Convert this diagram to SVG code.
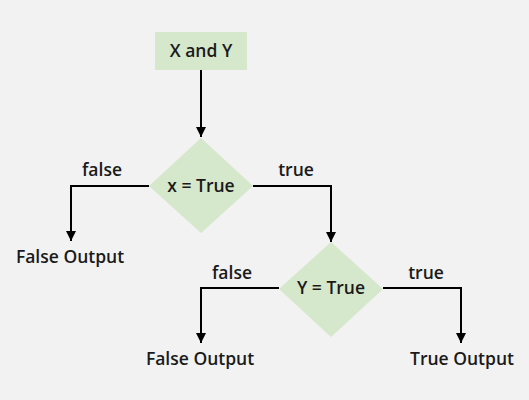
<svg xmlns="http://www.w3.org/2000/svg" width="529" height="400" viewBox="0 0 529 400">
<defs>
<marker id="arr" viewBox="0 0 10 10" refX="10" refY="5" markerWidth="10" markerHeight="10" markerUnits="userSpaceOnUse" orient="auto">
<path d="M0,0 L10,5 L0,10 z" fill="#000"/>
</marker>
<style>
.n{fill:#d5e8cc;stroke:none}
.t{font-family:"Open Sans","Noto Sans",sans-serif;font-weight:600;font-size:17.5px;fill:#1a1a1a;text-anchor:middle}
.c{fill:none;stroke:#000;stroke-width:2;marker-end:url(#arr)}
</style>
</defs>
<rect width="529" height="400" fill="#f2f2f2"/>
<g id="connectors">
<path class="c" d="M201,70 V137"/>
<path class="c" d="M149,186 H71 V241"/>
<path class="c" d="M253,186 H331 V242"/>
<path class="c" d="M279,288 H201 V343"/>
<path class="c" d="M383,288 H461 V343"/>
</g>
<g id="start">
<rect class="n" x="155" y="32" width="92" height="38"/>
<text class="t" x="201" y="57">X and Y</text>
</g>
<g id="d1">
<polygon class="n" points="201,138 253,186 201,233 149,186"/>
<text class="t" x="201" y="192">x = True</text>
</g>
<g id="d2">
<polygon class="n" points="331,242 383,289 331,337 279,289"/>
<text class="t" x="331" y="294">Y = True</text>
</g>
<g id="labels">
<text class="t" x="102" y="176">false</text>
<text class="t" x="296" y="176">true</text>
<text class="t" x="232" y="279">false</text>
<text class="t" x="426" y="279">true</text>
</g>
<g id="out1"><text class="t" x="70" y="263">False Output</text></g>
<g id="out2"><text class="t" x="200" y="365">False Output</text></g>
<g id="out3"><text class="t" x="462" y="365">True Output</text></g>
</svg>
